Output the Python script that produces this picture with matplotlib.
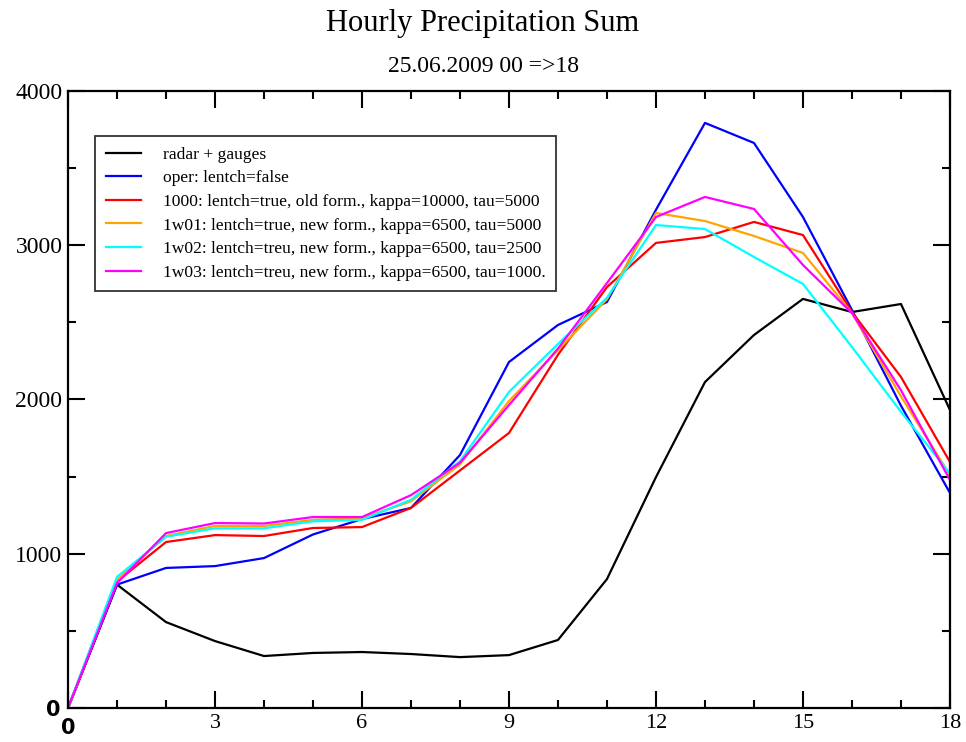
import numpy as np
import matplotlib.pyplot as plt
from matplotlib.ticker import MultipleLocator, FuncFormatter

# 数据
hours = list(range(19))
radar = [0, 800, 557, 434, 337, 357, 363, 350, 330, 343, 441, 836, 1497, 2113, 2418, 2652, 2567, 2619, 1932]
oper = [0, 800, 908, 920, 972, 1125, 1225, 1297, 1640, 2243, 2483, 2632, 3230, 3793, 3663, 3183, 2580, 1960, 1394]
run1000 = [0, 820, 1076, 1121, 1115, 1167, 1173, 1297, 1540, 1783, 2290, 2729, 3015, 3053, 3151, 3066, 2567, 2146, 1595]
run1w01 = [0, 830, 1115, 1180, 1180, 1220, 1230, 1340, 1580, 1990, 2320, 2650, 3209, 3157, 3060, 2950, 2560, 2020, 1510]
run1w02 = [0, 850, 1110, 1165, 1165, 1210, 1220, 1350, 1600, 2049, 2360, 2660, 3131, 3105, 2924, 2749, 2340, 1920, 1520]
run1w03 = [0, 810, 1134, 1199, 1196, 1238, 1238, 1380, 1590, 1964, 2330, 2755, 3183, 3313, 3235, 2872, 2560, 2060, 1478]

labels = [
    "radar + gauges",
    "oper: lentch=false",
    "1000: lentch=true, old form., kappa=10000, tau=5000",
    "1w01: lentch=true, new form., kappa=6500, tau=5000",
    "1w02: lentch=treu, new form., kappa=6500, tau=2500",
    "1w03: lentch=treu, new form., kappa=6500, tau=1000.",
]
colors = ["black", "#0000ff", "#ff0000", "#ffa500", "#00ffff", "#ff00ff"]
series = [radar, oper, run1000, run1w01, run1w02, run1w03]

plt.rcParams["font.family"] = ["Liberation Serif", "DejaVu Serif"]

fig = plt.figure(figsize=(9.66, 7.42), dpi=100)
ax = fig.add_axes([0.0704, 0.0458, 0.913, 0.8316])

for ys, c, lab in zip(series, colors, labels):
    ax.plot(hours, ys, color=c, lw=1.6, label=lab)

ax.set_xlim(0, 18)
ax.set_ylim(0, 4000)
ax.xaxis.set_major_locator(MultipleLocator(3))
ax.xaxis.set_minor_locator(MultipleLocator(1))
ax.yaxis.set_major_locator(MultipleLocator(1000))
ax.yaxis.set_minor_locator(MultipleLocator(500))
# 0 单独画（无衬线粗体），其余用衬线体
no_zero = FuncFormatter(lambda v, pos: "" if v == 0 else f"{v:g}")
ax.xaxis.set_major_formatter(no_zero)
ax.yaxis.set_major_formatter(no_zero)
ax.tick_params(which="both", direction="in", top=True, right=True, width=1.5, pad=4)
ax.tick_params(which="major", length=12)
ax.tick_params(which="minor", length=6)
ax.tick_params(axis="x", labelsize=16)
ax.tick_params(axis="y", labelsize=17)
for s in ax.spines.values():
    s.set_linewidth(1.6)

ax.text(0, -0.016, "0", transform=ax.transAxes, ha="center", va="top",
        family="DejaVu Sans", fontweight="bold", fontsize=15)
ax.text(-0.008, -0.003, "0", transform=ax.transAxes, ha="right", va="center",
        family="DejaVu Sans", fontweight="bold", fontsize=15)

fig.text(0.5, 0.968, "Hourly Precipitation Sum", ha="center", va="center", fontsize=22)
fig.text(0.5, 0.911, "25.06.2009 00 =>18", ha="center", va="center", fontsize=17)

leg = ax.legend(loc="upper left", bbox_to_anchor=(0.031, 0.927), fontsize=12.6,
                frameon=True, fancybox=False, handlelength=2.0, handletextpad=1.25,
                labelspacing=0.42, borderpad=0.6, borderaxespad=0)
leg.get_frame().set_edgecolor("black")
leg.get_frame().set_linewidth(1.3)

fig.savefig("out.png", dpi=100)
